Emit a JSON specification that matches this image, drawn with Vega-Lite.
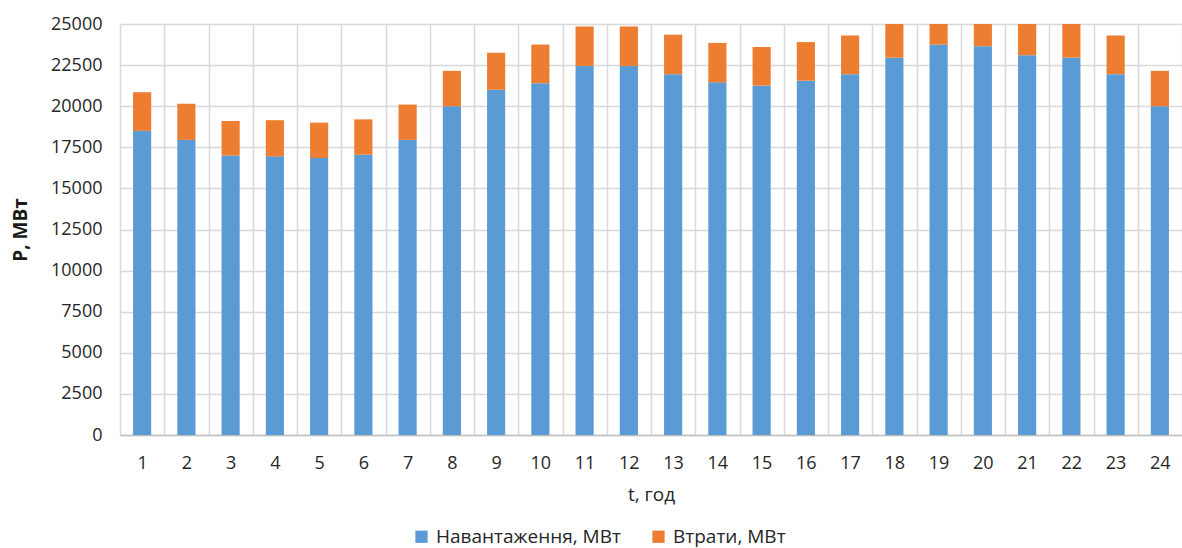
{
  "$schema": "https://vega.github.io/schema/vega-lite/v6.json",
  "autosize": {"type": "none"},
  "width": 1062,
  "height": 411,
  "padding": {"left": 120, "top": 24, "right": 0, "bottom": 113},
  "background": "#ffffff",
  "config": {
    "font": "Open Sans",
    "view": {"stroke": null}
  },
  "data": {
    "values": [
      {"t": 1, "series": "Навантаження, МВт", "k": 1, "value": 18500},
      {"t": 2, "series": "Навантаження, МВт", "k": 1, "value": 17950},
      {"t": 3, "series": "Навантаження, МВт", "k": 1, "value": 17000},
      {"t": 4, "series": "Навантаження, МВт", "k": 1, "value": 16950},
      {"t": 5, "series": "Навантаження, МВт", "k": 1, "value": 16850},
      {"t": 6, "series": "Навантаження, МВт", "k": 1, "value": 17050},
      {"t": 7, "series": "Навантаження, МВт", "k": 1, "value": 17950},
      {"t": 8, "series": "Навантаження, МВт", "k": 1, "value": 20000},
      {"t": 9, "series": "Навантаження, МВт", "k": 1, "value": 21000},
      {"t": 10, "series": "Навантаження, МВт", "k": 1, "value": 21400},
      {"t": 11, "series": "Навантаження, МВт", "k": 1, "value": 22450},
      {"t": 12, "series": "Навантаження, МВт", "k": 1, "value": 22450},
      {"t": 13, "series": "Навантаження, МВт", "k": 1, "value": 21950},
      {"t": 14, "series": "Навантаження, МВт", "k": 1, "value": 21450},
      {"t": 15, "series": "Навантаження, МВт", "k": 1, "value": 21250},
      {"t": 16, "series": "Навантаження, МВт", "k": 1, "value": 21550},
      {"t": 17, "series": "Навантаження, МВт", "k": 1, "value": 21950},
      {"t": 18, "series": "Навантаження, МВт", "k": 1, "value": 22950},
      {"t": 19, "series": "Навантаження, МВт", "k": 1, "value": 23750},
      {"t": 20, "series": "Навантаження, МВт", "k": 1, "value": 23650},
      {"t": 21, "series": "Навантаження, МВт", "k": 1, "value": 23100},
      {"t": 22, "series": "Навантаження, МВт", "k": 1, "value": 22950},
      {"t": 23, "series": "Навантаження, МВт", "k": 1, "value": 21950},
      {"t": 24, "series": "Навантаження, МВт", "k": 1, "value": 20000},
      {"t": 1, "series": "Втрати, МВт", "k": 2, "value": 2350},
      {"t": 2, "series": "Втрати, МВт", "k": 2, "value": 2200},
      {"t": 3, "series": "Втрати, МВт", "k": 2, "value": 2100},
      {"t": 4, "series": "Втрати, МВт", "k": 2, "value": 2200},
      {"t": 5, "series": "Втрати, МВт", "k": 2, "value": 2150},
      {"t": 6, "series": "Втрати, МВт", "k": 2, "value": 2150},
      {"t": 7, "series": "Втрати, МВт", "k": 2, "value": 2150},
      {"t": 8, "series": "Втрати, МВт", "k": 2, "value": 2150},
      {"t": 9, "series": "Втрати, МВт", "k": 2, "value": 2250},
      {"t": 10, "series": "Втрати, МВт", "k": 2, "value": 2350},
      {"t": 11, "series": "Втрати, МВт", "k": 2, "value": 2400},
      {"t": 12, "series": "Втрати, МВт", "k": 2, "value": 2400},
      {"t": 13, "series": "Втрати, МВт", "k": 2, "value": 2400},
      {"t": 14, "series": "Втрати, МВт", "k": 2, "value": 2400},
      {"t": 15, "series": "Втрати, МВт", "k": 2, "value": 2350},
      {"t": 16, "series": "Втрати, МВт", "k": 2, "value": 2350},
      {"t": 17, "series": "Втрати, МВт", "k": 2, "value": 2350},
      {"t": 18, "series": "Втрати, МВт", "k": 2, "value": 2400},
      {"t": 19, "series": "Втрати, МВт", "k": 2, "value": 2450},
      {"t": 20, "series": "Втрати, МВт", "k": 2, "value": 2450},
      {"t": 21, "series": "Втрати, МВт", "k": 2, "value": 2400},
      {"t": 22, "series": "Втрати, МВт", "k": 2, "value": 2400},
      {"t": 23, "series": "Втрати, МВт", "k": 2, "value": 2350},
      {"t": 24, "series": "Втрати, МВт", "k": 2, "value": 2150}
    ]
  },
  "mark": {"type": "bar", "clip": true, "width": {"band": 0.41}},
  "encoding": {
    "x": {
      "field": "t",
      "type": "ordinal",
      "scale": {"paddingInner": 0, "paddingOuter": 0},
      "axis": {
        "title": "t, год",
        "titleFontSize": 19,
        "titleFontWeight": "normal",
        "titleColor": "#262626",
        "titlePadding": 13,
        "labelAngle": 0,
        "labelFontSize": 18,
        "labelColor": "#262626",
        "labelPadding": 19,
        "grid": true,
        "gridColor": "#d9d9d9",
        "gridWidth": 1.5,
        "tickBand": "extent",
        "ticks": false,
        "domainColor": "#bfbfbf",
        "domainWidth": 1.5
      }
    },
    "y": {
      "field": "value",
      "type": "quantitative",
      "stack": "zero",
      "scale": {"domain": [0, 25000], "nice": false},
      "axis": {
        "title": "P, МВт",
        "titleFontSize": 19,
        "titleFontWeight": "bold",
        "titleColor": "#1a1a1a",
        "titlePadding": 20,
        "values": [0, 2500, 5000, 7500, 10000, 12500, 15000, 17500, 20000, 22500, 25000],
        "format": "d",
        "labelFontSize": 18,
        "labelColor": "#262626",
        "labelPadding": 18,
        "grid": true,
        "gridColor": "#d9d9d9",
        "gridWidth": 1.5,
        "ticks": false,
        "domain": false
      }
    },
    "color": {
      "field": "series",
      "type": "nominal",
      "scale": {
        "domain": ["Навантаження, МВт", "Втрати, МВт"],
        "range": ["#5b9bd5", "#ed7d31"]
      },
      "legend": {
        "title": null,
        "orient": "none",
        "direction": "horizontal",
        "legendX": 292,
        "legendY": 503,
        "symbolType": "square",
        "symbolSize": 150,
        "symbolStrokeWidth": 0,
        "labelFontSize": 19,
        "labelColor": "#262626",
        "labelLimit": 400,
        "columnPadding": 28,
        "labelOffset": 5
      }
    },
    "order": {"field": "k", "type": "quantitative"}
  }
}
